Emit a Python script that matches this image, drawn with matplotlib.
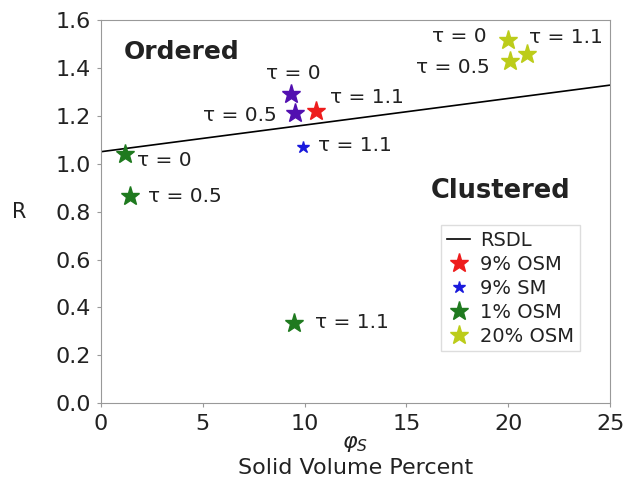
import numpy as np
import matplotlib.pyplot as plt

# solid volume percent (phi_S) and R for each run
osm9_phi = [10.55]
osm9_r = [1.22]
osm9_tau = ['1.1']

sm9_phi = [9.9]
sm9_r = [1.07]
sm9_tau = ['1.1']

mixed9_phi = [9.35, 9.55]
mixed9_r = [1.29, 1.21]
mixed9_tau = ['0', '0.5']

osm1_phi = [1.2, 1.45, 9.5]
osm1_r = [1.04, 0.865, 0.335]
osm1_tau = ['0', '0.5', '1.1']

osm20_phi = [20.0, 20.1, 20.9]
osm20_r = [1.515, 1.43, 1.46]
osm20_tau = ['0', '0.5', '1.1']

# RSDL boundary between ordered and clustered
rsdl_phi = [0, 25]
rsdl_r = [1.05, 1.328]

text_color = '#222222'

fig = plt.figure(figsize=(6.27, 4.87), dpi=100)
ax = fig.add_axes([0.161, 0.172, 0.812, 0.787])

ax.plot(rsdl_phi, rsdl_r, color='black', lw=1.2, label='RSDL')
ax.plot(osm9_phi, osm9_r, '*', color='#ee1c1c', ms=14, label='9% OSM')
ax.plot(sm9_phi, sm9_r, '*', color='#1a1adc', ms=9, label='9% SM')
ax.plot(osm1_phi, osm1_r, '*', color='#1f7a1f', ms=14, label='1% OSM')
ax.plot(osm20_phi, osm20_r, '*', color='#bccc1a', ms=14, label='20% OSM')
ax.plot(mixed9_phi, mixed9_r, '*', color='#5210b0', ms=14)

# tau labels next to the points
labels = [
    (1.75, 1.015, osm1_tau[0]),
    (2.3, 0.865, osm1_tau[1]),
    (10.5, 0.338, osm1_tau[2]),
    (8.1, 1.378, mixed9_tau[0]),
    (5.0, 1.20, mixed9_tau[1]),
    (11.25, 1.278, osm9_tau[0]),
    (10.65, 1.078, sm9_tau[0]),
    (16.25, 1.53, osm20_tau[0]),
    (15.45, 1.40, osm20_tau[1]),
    (21.0, 1.525, osm20_tau[2]),
]
for x, y, t in labels:
    ax.text(x, y, '\u03c4 = ' + t, fontsize=14.5, color=text_color,
            va='center', ha='left')

ax.text(1.1, 1.465, 'Ordered', fontsize=18, fontweight='bold',
        color=text_color, va='center')
ax.text(16.2, 0.885, 'Clustered', fontsize=18.5, fontweight='bold',
        color=text_color, va='center')

ax.set_xlim(0, 25)
ax.set_ylim(0, 1.6)
ax.set_xticks([0, 5, 10, 15, 20, 25])
ax.set_yticks(np.arange(0, 1.61, 0.2))
ax.set_yticklabels(['%.1f' % v for v in np.arange(0, 1.61, 0.2)])
ax.tick_params(labelsize=16, colors='#999999', labelcolor=text_color,
               length=3, width=0.8)
ax.tick_params(axis='y', pad=4)
ax.tick_params(axis='x', pad=5)
for s in ax.spines.values():
    s.set_color('#999999')

ax.set_xlabel('$\\varphi_S$\nSolid Volume Percent', fontsize=16,
              color=text_color, labelpad=0, linespacing=1.2)
ax.set_ylabel('R', fontsize=15, color=text_color, rotation=0, labelpad=26,
              va='center')

leg = ax.legend(loc='lower right', bbox_to_anchor=(0.96, 0.11),
                fontsize=14, numpoints=1, handlelength=1.2,
                handletextpad=0.5, labelspacing=0.25, borderpad=0.3,
                fancybox=False, framealpha=1)
leg.get_frame().set_edgecolor('#dddddd')
for t in leg.get_texts():
    t.set_color(text_color)

fig.savefig('out.png', dpi=100)
